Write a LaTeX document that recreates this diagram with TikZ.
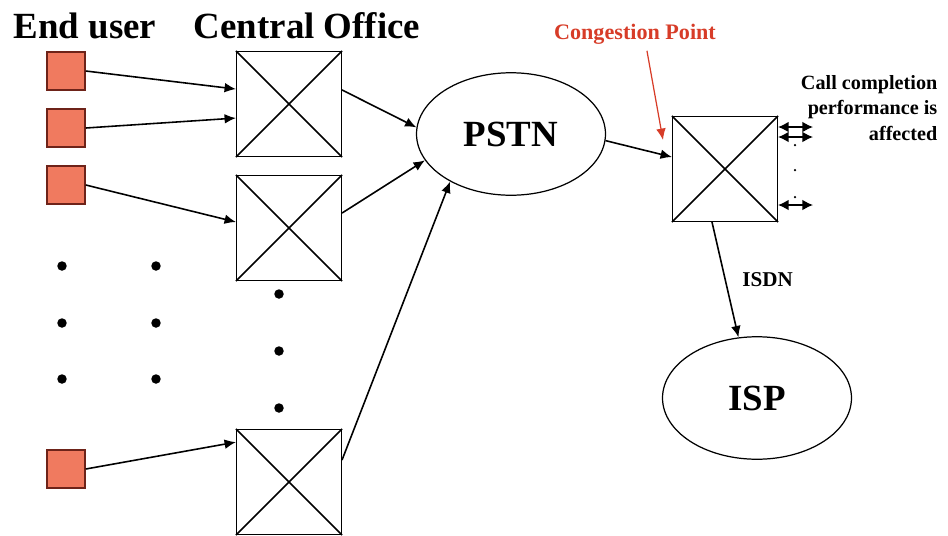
\documentclass[tikz,border=0pt]{standalone}
\usepackage{fontspec}
\setmainfont{Liberation Serif}
\usetikzlibrary{positioning,shapes.geometric,arrows.meta}
\definecolor{userfill}{RGB}{240,122,95}
\definecolor{userline}{RGB}{110,35,25}
\definecolor{congred}{RGB}{215,60,40}

\begin{document}
\begin{tikzpicture}[x=0.02cm, y=-0.02cm, line width=0.9pt, >={Latex[length=6.5pt,width=5.5pt]},
    user/.style={draw=userline, fill=userfill, minimum size=0.76cm, inner sep=0pt},
    switchbox/.style={draw, line width=0.6pt, minimum size=2.1cm, inner sep=0pt},
    net/.style={draw, ellipse, line width=0.7pt, minimum width=3.78cm, minimum height=2.45cm, font=\bfseries\fontsize{21}{24}\selectfont},
    head/.style={font=\bfseries\fontsize{21}{24}\selectfont},
    small/.style={font=\bfseries\fontsize{11.5}{14.7}\selectfont},
    bigdot/.style={circle, fill, inner sep=0pt, minimum size=0.19cm},
    tinydot/.style={circle, fill, inner sep=0pt, minimum size=0.05cm}]
            \useasboundingbox (0,0) rectangle (948,535);

            \node[head] (enduser) at (85,26) {End user};
            \node[head] (central) at (307,26) {Central Office};

            \node[user] (u1) at (66,71) {};
            \node[user] (u2) at (66,128) {};
            \node[user] (u3) at (66,185) {};
            \node[user] (u4) at (66,469) {};

            \node[switchbox] (co1) at (289,104) {};
            \node[switchbox] (co2) at (289,228) {};
            \node[switchbox] (co3) at (289,482) {};
            \node[switchbox] (sw) at (725,169) {};
            \foreach \b in {co1,co2,co3,sw}
                \draw[line width=0.9pt] (\b.north west) -- (\b.south east) (\b.south west) -- (\b.north east);

            \node[net] (pstn) at (511,134) {PSTN};
            \node[net] (isp) at (757,398) {ISP};

            \foreach \c/\x in {a/62,b/156}
                \foreach \r/\y in {1/266,2/323,3/379}
                    \node[bigdot] (d\c\r) at (\x,\y) {};
            \foreach \r/\y in {1/294,2/351,3/408}
                \node[bigdot] (dc\r) at (279,\y) {};

            \draw[->] (u1.east) -- ([yshift=8.5pt]co1.west);
            \draw[->] (u2.east) -- ([yshift=-8pt]co1.west);
            \draw[->] (u3.east) -- ([yshift=3.4pt]co2.west);
            \draw[->] (u4.east) -- ([yshift=22.7pt]co3.west);

            \draw[->] ([yshift=8pt]co1.east) -- (pstn.176);
            \draw[->] ([yshift=8.5pt]co2.east) -- (pstn.197);
            \draw[->] ([yshift=12.5pt]co3.east) -- (pstn.218);
            \draw[->] (pstn.356) -- ([yshift=6.8pt]sw.west);

            \node[small, text=congred, font=\bfseries\fontsize{12.6}{14}\selectfont] (cong) at (635,34) {Congestion Point};
            \coordinate (cp) at (663,140);
            \draw[->, congred, line width=0.7pt] ([xshift=6.8pt]cong.south) -- (cp);

            \draw[->] ([xshift=-7.4pt]sw.south) -- node[midway, right=6pt, small, font=\bfseries\fontsize{12}{14}\selectfont] (isdn) {ISDN} (isp.107);

            \node[small, align=right, anchor=east] (perf) at (944,108) {Call completion\\performance is\\affected};

            \coordinate (t1) at (813,127);
            \coordinate (t2) at (813,137);
            \coordinate (t3) at (813,205);
            \foreach \t in {t1,t2,t3}
                \draw[<->, line width=0.8pt, >={Latex[length=6pt,width=6pt]}] (sw.east |- \t) -- (\t);
            \foreach \n/\y in {1/145,2/170,3/197}
                \node[tinydot] (s\n) at (795,\y) {};
        \end{tikzpicture}
\end{document}
